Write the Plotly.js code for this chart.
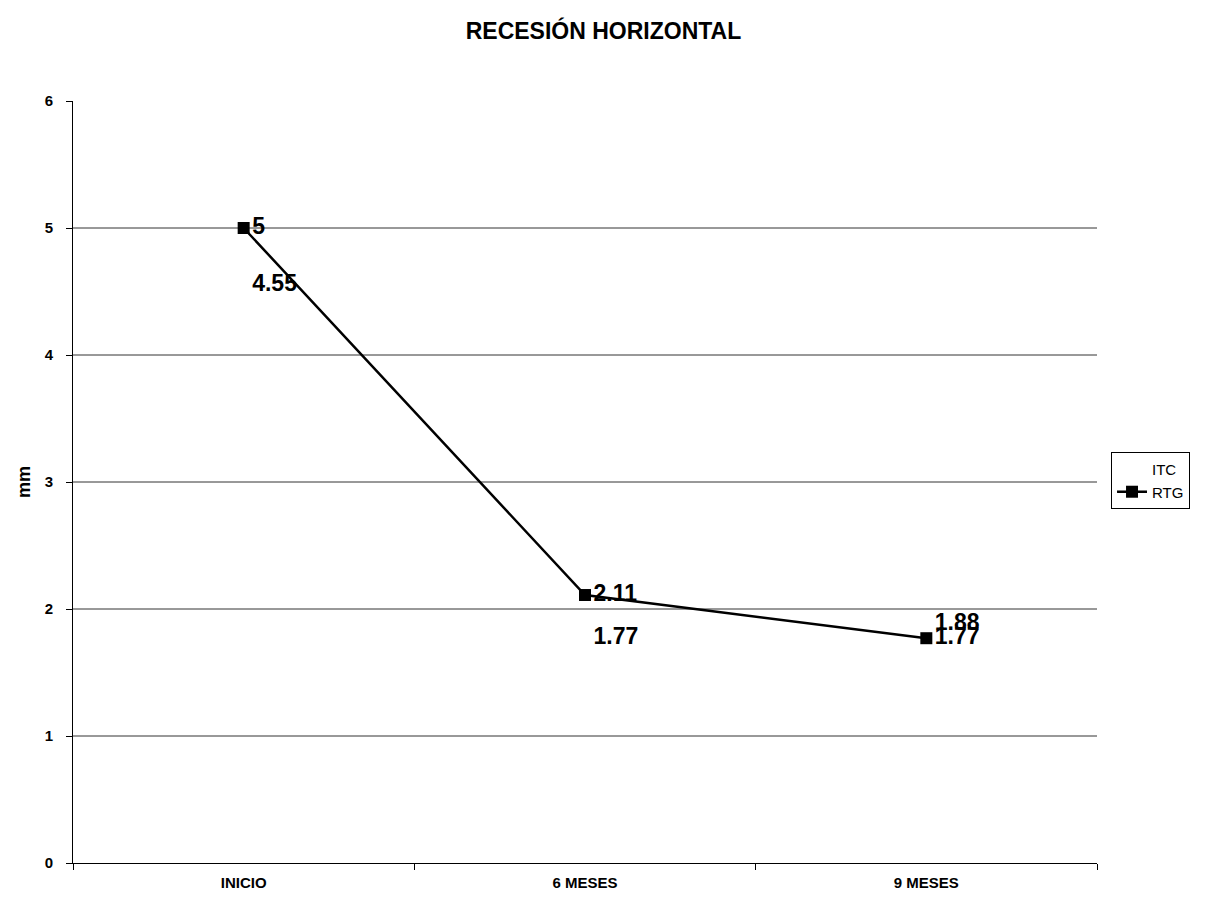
<!DOCTYPE html>
<html>
<head>
<meta charset="utf-8">
<script src="https://cdn.plot.ly/plotly-3.0.1.min.js"></script>
<style>html,body{margin:0;padding:0;background:#fff;}#chart{width:1207px;height:901px;}</style>
</head>
<body>
<div id="chart"></div>
<script>
const categories = ["INICIO", "6 MESES", "9 MESES"];
const itcValues = [4.55, 1.77, 1.88];
const rtgValues = [5, 2.11, 1.77];
const yTicks = [0, 1, 2, 3, 4, 5, 6];
const gridValues = [1, 2, 3, 4, 5];

const fontFam = "Liberation Sans, Arial, sans-serif";

const traces = [
  {
    x: categories, y: itcValues, name: "ITC", type: "scatter",
    mode: "lines+markers+text",
    line: {color: "rgba(0,0,0,0)", width: 2},
    marker: {color: "rgba(0,0,0,0)", size: 12, symbol: "square"},
    text: itcValues.map(String), textposition: "middle right",
    textfont: {family: fontFam, size: 23, color: "#000", weight: "bold"},
    cliponaxis: false
  },
  {
    x: categories, y: rtgValues, name: "RTG", type: "scatter",
    mode: "lines+markers+text",
    line: {color: "#000", width: 2.5},
    marker: {color: "#000", size: 12, symbol: "square"},
    text: rtgValues.map(String), textposition: "middle right",
    textfont: {family: fontFam, size: 23, color: "#000", weight: "bold"},
    cliponaxis: false
  }
];

const shapes = gridValues.map(v => ({
  type: "line", xref: "paper", yref: "y", x0: 0, x1: 1, y0: v, y1: v,
  line: {color: "#333", width: 1}, layer: "below"
}));

const layout = {
  width: 1207, height: 901,
  margin: {l: 73, r: 110, t: 101, b: 38},
  paper_bgcolor: "#fff", plot_bgcolor: "#fff",
  title: {text: "RECESIÓN HORIZONTAL", x: 0.5, xanchor: "center", y: 0.966, yanchor: "middle",
          font: {family: fontFam, size: 23, color: "#000", weight: "bold"}},
  showlegend: true,
  legend: {x: 1.0137, xanchor: "left", y: 0.502, yanchor: "middle",
           bordercolor: "#000", borderwidth: 1, bgcolor: "#fff",
           font: {family: fontFam, size: 15, color: "#000"}, tracegroupgap: 0},
  xaxis: {
    type: "category", range: [-0.5, 2.5], tickson: "boundaries",
    ticks: "outside", ticklen: 6, tickcolor: "#000",
    showline: true, linecolor: "#000", linewidth: 1, showgrid: false, zeroline: false,
    ticklabelstandoff: 6,
    tickfont: {family: fontFam, size: 15, color: "#000", weight: "bold"}
  },
  yaxis: {
    range: [0, 6], tickvals: yTicks, ticks: "outside", ticklen: 6, tickcolor: "#000",
    showline: true, linecolor: "#000", linewidth: 1, showgrid: false, zeroline: false,
    ticklabelstandoff: 10,
    tickfont: {family: fontFam, size: 15, color: "#000", weight: "bold"},
    title: {text: "mm", standoff: 9, font: {family: fontFam, size: 18, color: "#000", weight: "bold"}}
  },
  shapes: shapes
};

Plotly.newPlot("chart", traces, layout, {displayModeBar: false, staticPlot: true});
</script>
</body>
</html>
